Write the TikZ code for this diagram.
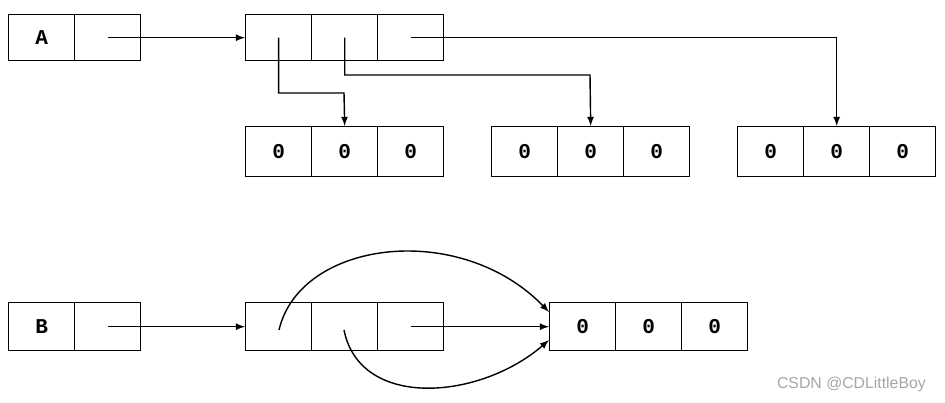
\documentclass[tikz,border=0pt]{standalone}
\usepackage{fontspec}
\setmainfont{Liberation Sans}
\setmonofont{Liberation Mono}
\begin{document}
\begin{tikzpicture}[x=0.02cm,y=-0.02cm,
  cell/.style={draw,line width=0.8pt,minimum width=1.32cm,minimum height=0.92cm,inner sep=0,font=\ttfamily\bfseries\large,anchor=north west},
  arr/.style={-latex,line width=0.8pt}]
\useasboundingbox (0,0) rectangle (945,402);
% A
\node[cell] (a0) at (8,14) {A};
\node[cell] (a1) at (74,14) {};
\node[cell] (t0) at (245,14) {};
\node[cell] (t1) at (311,14) {};
\node[cell] (t2) at (377,14) {};
\foreach \n/\x in {p/245,q/491,r/737}{
  \node[cell,minimum height=1cm] (\n0) at (\x,126) {0};
  \node[cell,minimum height=1cm] (\n1) at (\x+66,126) {0};
  \node[cell,minimum height=1cm] (\n2) at (\x+132,126) {0};
}
\draw[arr] (a1.center) -- (t0.west);
\draw[arr] (t0.center) |- (344,93) -- (p1.north);
\draw[arr] (t1.center) |- (590,75) -- (q1.north);
\draw[arr] (t2.center) -| (r1.north);
% B
\node[cell,minimum height=0.96cm] (b0) at (8,302) {B};
\node[cell,minimum height=0.96cm] (b1) at (74,302) {};
\node[cell,minimum height=0.96cm] (u0) at (245,302) {};
\node[cell,minimum height=0.96cm] (u1) at (311,302) {};
\node[cell,minimum height=0.96cm] (u2) at (377,302) {};
\node[cell,minimum height=0.96cm] (v0) at (549,302) {0};
\node[cell,minimum height=0.96cm] (v1) at (615,302) {0};
\node[cell,minimum height=0.96cm] (v2) at (681,302) {0};
\draw[arr] (b1.center) -- (u0.west);
\draw[arr] (u2.center) -- (v0.west);
\coordinate (c1) at (279,330);
\coordinate (c2) at (344,330);
\draw[arr] (c1) .. controls (300,240) and (460,220) .. (549,312);
\draw[arr] (c2) .. controls (360,410) and (480,400) .. (549,340);
\node[text=gray!70,font=\small,anchor=east] (wm) at (932,384) {CSDN @CDLittleBoy};
\end{tikzpicture}
\end{document}
